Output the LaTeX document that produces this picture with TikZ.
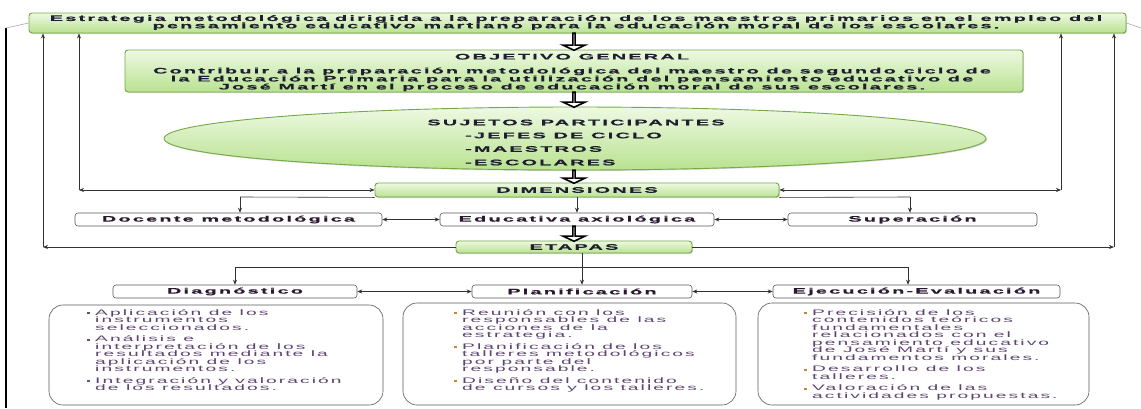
\documentclass[tikz,border=0pt]{standalone}
\usepackage{fontspec}
\setmainfont{Liberation Sans}
\newfontfamily\wf[FakeStretch=2.4,LetterSpace=26]{Liberation Sans}
\newfontfamily\wfb[FakeStretch=2.48,LetterSpace=28,FakeBold=0.6]{Liberation Sans}
\usetikzlibrary{shapes.geometric,shapes.arrows,arrows.meta,shadows,calc}
\definecolor{gborder}{HTML}{76A846}
\definecolor{gtop}{HTML}{EDF9E2}
\definecolor{gbot}{HTML}{B9E290}
\definecolor{txtdark}{HTML}{1E1E2E}
\definecolor{bodytxt}{HTML}{5E4470}
\definecolor{bulA}{HTML}{6E4A82}
\definecolor{bulB}{HTML}{C08A3A}
\definecolor{ttl}{HTML}{2A1830}
\newcommand\bul[1]{\llap{\textcolor{#1}{\rule[1pt]{2.3pt}{2.3pt}}\hspace{5.5pt}}}
\newcommand\tightl{\lineskiplimit=-20pt\relax}
\tikzset{
 gbox/.style={draw=gborder, line width=0.9pt, rounded corners=3pt, top color=gtop, bottom color=gbot,
   drop shadow={shadow xshift=1pt,shadow yshift=-1pt,opacity=0.35}, inner sep=0pt,
   font=\wfb\bfseries\fontsize{8}{8}\selectfont\tightl, text=txtdark, align=center},
 wbox/.style={draw=black!65, line width=0.6pt, rounded corners=3pt, fill=white, inner sep=0pt,
   font=\wfb\bfseries\fontsize{8}{8}\selectfont, text=ttl},
 cbox/.style={draw=black!65, line width=0.6pt, rounded corners=14pt, fill=white},
 btext/.style={inner sep=0pt, anchor=north west, align=left, font=\wf\fontsize{8}{7.5}\selectfont\tightl, text=bodytxt},
 etext/.style={inner sep=0pt, font=\wfb\bfseries\fontsize{8}{8}\selectfont\tightl, text=txtdark, align=center},
 conn/.style={draw=black!80, line width=0.6pt},
 arr/.style={conn, ->},
 darr/.style={conn, <->},
 bigarr/.style={single arrow, draw=black, line width=1.6pt, fill=white, shape border rotate=270,
   inner sep=0pt, minimum width=22pt, single arrow head extend=7pt, single arrow tip angle=130},
}
\begin{document}
\begin{tikzpicture}[x=1pt,y=-1pt,>={Stealth[length=5pt,width=4pt]}]
\useasboundingbox (0,0) rectangle (1141,408);
% green boxes
\node[gbox, minimum width=1097pt, minimum height=20pt] (top) at (577.5,23) {};
\node[etext, font=\wfb\bfseries\fontsize{8}{7.3}\selectfont\tightl] (topt) at (576,22.5)
 {Estrategia metodológica dirigida a la preparación de los maestros primarios en el empleo del\\pensamiento educativo martiano para la educación moral de los escolares.};
\node[gbox, minimum width=898pt, minimum height=42pt] (obj) at (574,71) {};
\node[etext] (objt) at (572,72.5)
 {OBJETIVO GENERAL\\[6pt]Contribuir a la preparación metodológica del maestro de segundo ciclo de\\la Educación Primaria para la utilización del pensamiento educativo de\\José Martí en el proceso de educación moral de sus escolares.};
\node[ellipse, draw=gborder, line width=0.9pt, top color=gtop, bottom color=gbot,
  drop shadow={shadow xshift=1pt,shadow yshift=-1pt,opacity=0.35},
  minimum width=822pt, minimum height=63pt, inner sep=0pt] (ell) at (575,138.5) {};
\node[etext] (sj) at (576,122.5) {SUJETOS PARTICIPANTES};
\node[etext, anchor=west] (j1) at (465,135.5) {-JEFES DE CICLO};
\node[etext, anchor=west] (j2) at (465,149) {-MAESTROS};
\node[etext, anchor=west] (j3) at (465,162.5) {-ESCOLARES};
\node[gbox, minimum width=404pt, minimum height=14pt] (dim) at (577,190) {DIMENSIONES};
\node[wbox, minimum width=307pt, minimum height=13pt] (doc) at (228.5,219.5) {Docente metodológica};
\node[wbox, minimum width=274pt, minimum height=13pt] (edu) at (577,219.5) {Educativa axiológica};
\node[wbox, minimum width=249pt, minimum height=13pt] (sup) at (912.5,219.5) {Superación};
\node[gbox, minimum width=236pt, minimum height=12pt] (et) at (574,247) {ETAPAS};
\node[wbox, minimum width=244pt, minimum height=13pt] (dia) at (235,291.5) {Diagnóstico};
\node[wbox, minimum width=220pt, minimum height=13pt] (pla) at (582,291.5) {Planificación};
\node[wbox, minimum width=287pt, minimum height=13pt] (eje) at (916.5,291.5) {Ejecución-Evaluación};
% content boxes
\node[cbox, minimum width=334pt, minimum height=100pt] (cdia) at (216,355) {};
\node[cbox, minimum width=333pt, minimum height=102pt] (cpla) at (569.5,354) {};
\node[cbox, minimum width=331pt, minimum height=102pt] (ceje) at (923.5,354) {};
\node[btext] (tdia) at (95,309.3) {\bul{bulA}Aplicación de los\\instrumentos\\seleccionados.\\[4pt]
 \bul{bulA}Análisis e\\interpretación de los\\resultados mediante la\\aplicación de los\\instrumentos.\\[4pt]
 \bul{bulA}Integración y valoración\\de los resultados.};
\node[btext] (tpla) at (462,309.3) {\bul{bulB}Reunión con los\\responsables de las\\acciones de la\\estrategia.\\[4pt]
 \bul{bulB}Planificación de los\\talleres metodológicos\\por parte del\\responsable.\\[4pt]
 \bul{bulB}Diseño del contenido\\de cursos y los talleres.};
\node[btext] (teje) at (812,309.3) {\bul{bulB}Precisión de los\\contenidos teóricos\\fundamentales\\relacionados con el\\pensamiento educativo\\de José Martí y sus\\fundamentos morales.\\[4pt]
 \bul{bulB}Desarrollo de los\\talleres.\\[4pt]
 \bul{bulB}Valoración de las\\actividades propuestas.};
% big block arrows
\node[bigarr, minimum height=17pt] (ba1) at (574,41.5) {};
\node[bigarr, minimum height=15pt] (ba2) at (574,99.5) {};
\node[bigarr, minimum height=13pt] (ba3) at (574,176.5) {};
\node[bigarr, minimum height=15pt] (ba4) at (574,233.5) {};
% outer bracket
\coordinate (L1) at (6,28);
\coordinate (L2) at (6,408);
\coordinate (R1) at (1141,28);
\draw[black, line width=1.1pt] (L1) -- (L2);
\draw[gray!70, line width=0.6pt] (L1) -- (top.west);
\draw[gray!70, line width=0.6pt] (top.east) -- (R1);
% feedback lines
\coordinate (cA) at (43,247);
\coordinate (cB) at (79,190);
\coordinate (cC) at (1061,190);
\coordinate (cD) at (1114,247);
\draw[arr] (et.west) -- (cA);
\draw[arr] (cA) -- (cA |- top.south);
\draw[darr] (cB) -- (dim.west);
\draw[arr] (cB) -- (cB |- top.south);
\draw[darr] (dim.east) -- (cC);
\draw[arr] (cC) -- (cC |- top.south);
\draw[arr] (et.east) -- (cD);
\draw[arr] (cD) -- (cD |- top.south);
% dimensions
\coordinate (d1) at (240,197);
\coordinate (d3) at (910,197);
\draw[conn] (d1) -- (dim.south west);
\draw[conn] (dim.south east) -- (d3);
\draw[arr] (d1) -- (d1 |- doc.north);
\draw[arr] (d3) -- (d3 |- sup.north);
\draw[arr] (dim.south) -- (edu.north);
\draw[darr] (doc.east) -- (edu.west);
\draw[darr] (edu.east) -- (sup.west);
% stages
\coordinate (e1) at (235,267);
\coordinate (e3) at (908,267);
\draw[conn] (e1) -- (e3);
\draw[arr] (e1) -- (e1 |- dia.north);
\draw[arr] (e3) -- (e3 |- eje.north);
\draw[arr] (pla.north |- et.south) -- (pla.north);
\draw[darr] (dia.east) -- (pla.west);
\draw[darr] (pla.east) -- (eje.west);
\end{tikzpicture}
\end{document}
